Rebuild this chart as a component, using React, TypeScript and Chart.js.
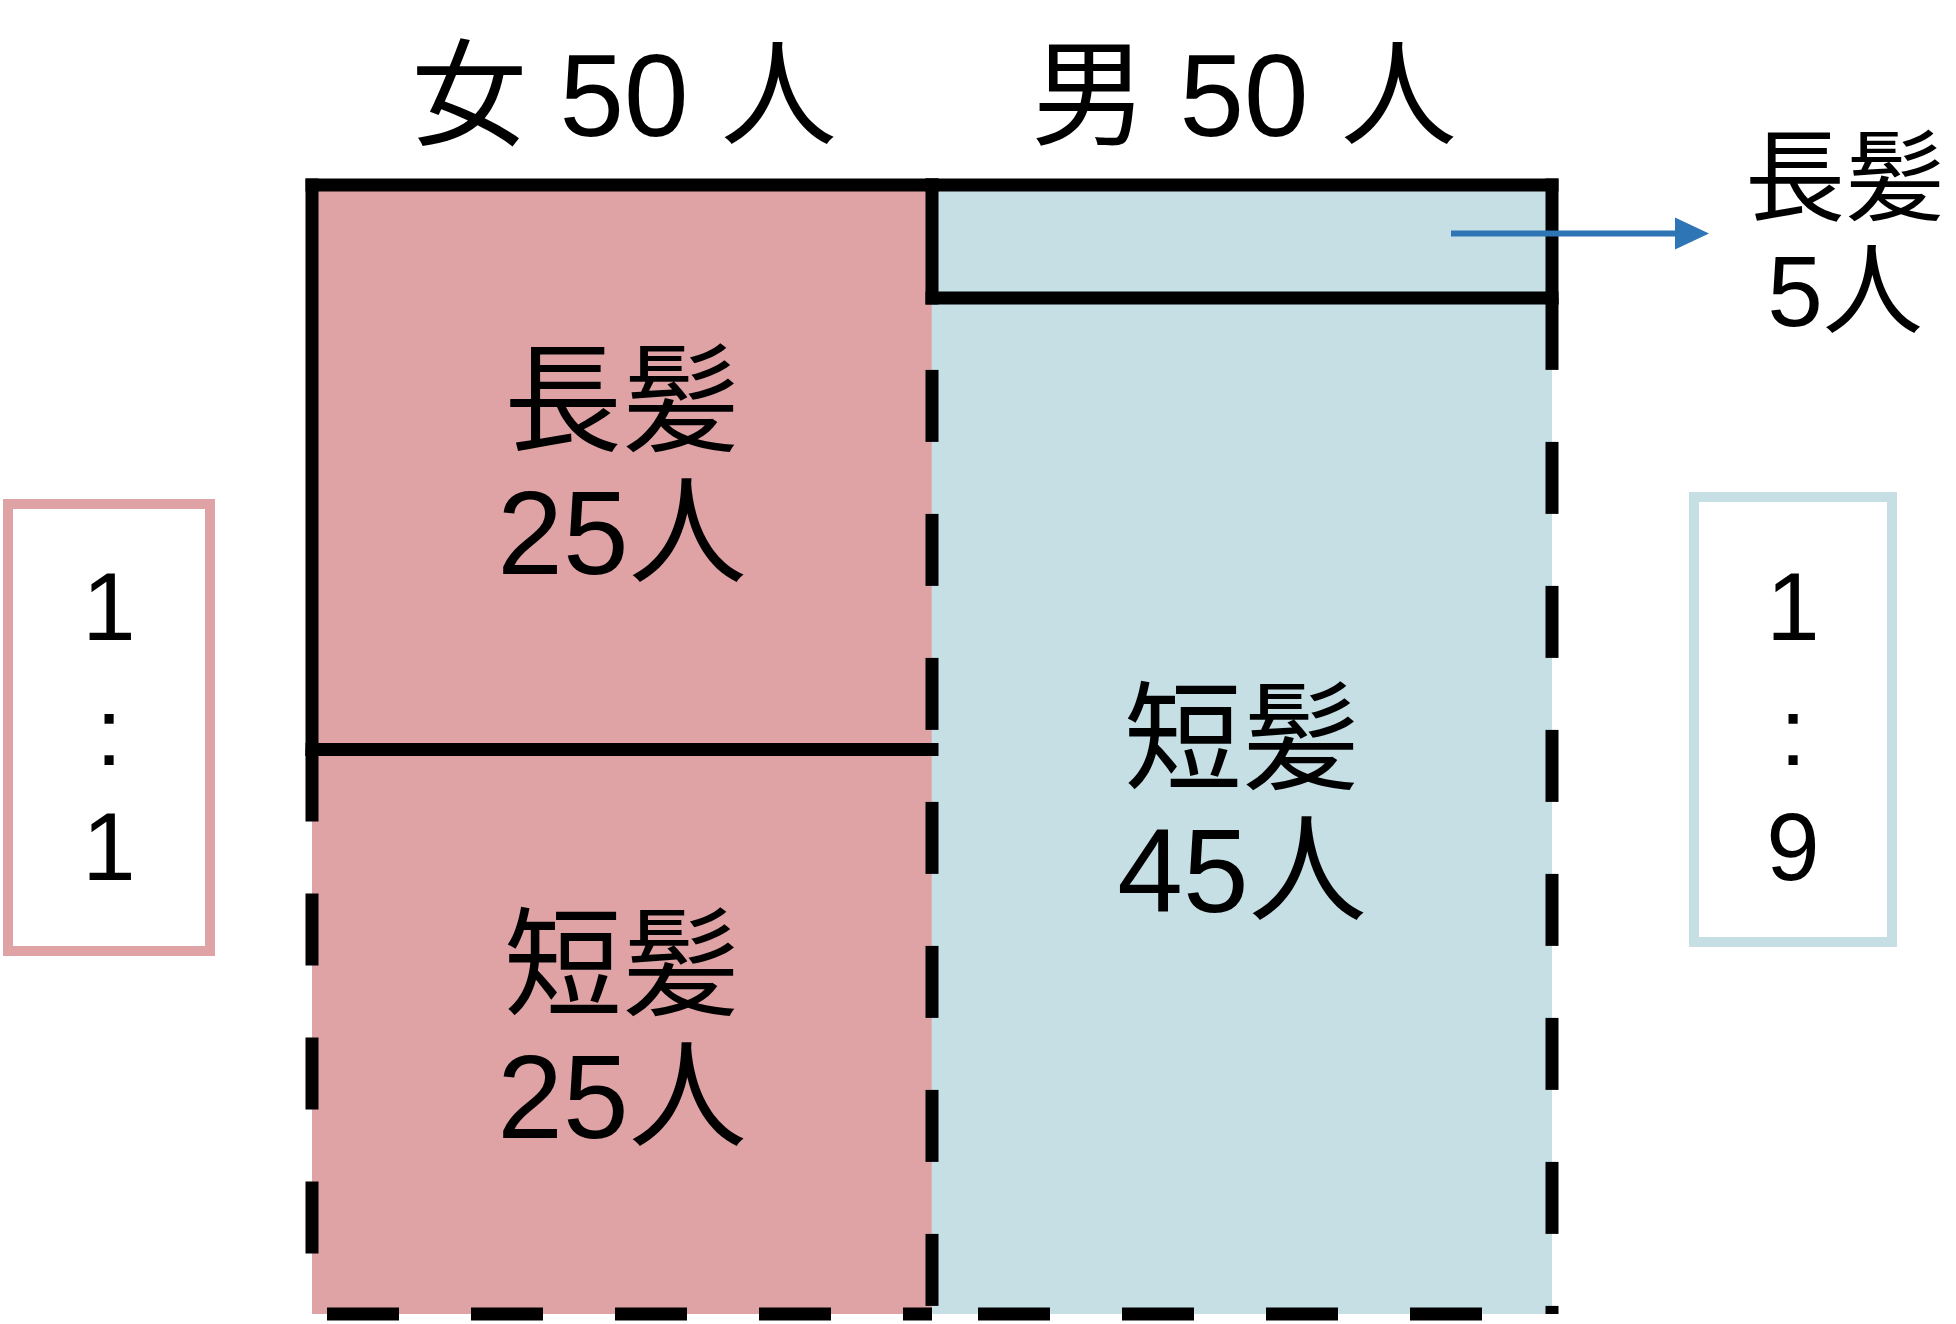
import React, { useEffect, useRef } from 'react';
import { Chart, registerables } from 'chart.js';

Chart.register(...registerables);

// ---- data ----
const genders = ['女', '男'];
const hairTypes = ['短髪', '長髪'];
const shortHair = [25, 45];
const longHair = [25, 5];
const personUnit = '人';

// ---- styles ----
const PINK = '#dfa3a5';
const BLUE = '#c5dfe5';
const ARROW = '#2e75b6';
const FONT = '"Liberation Sans", "Noto Sans CJK JP", sans-serif';
const LINE_W = 13;
const DASH = [72, 72];

function gcd(a: number, b: number): number {
  return b === 0 ? a : gcd(b, a % b);
}

type Side = 'top' | 'left' | 'right' | 'bottom';
// border sides per dataset (0 short, 1 long) and per category, with dash offsets
const sidesConfig: Record<number, { sides: Side[]; solid: boolean; offsets?: Partial<Record<Side, number>> }[]> = {
  0: [
    { sides: ['left', 'bottom'], solid: false, offsets: { bottom: 129 } },
    { sides: ['left', 'right', 'bottom'], solid: false, offsets: { left: 72, bottom: 98 } },
  ],
  1: [
    { sides: ['top', 'left', 'bottom'], solid: true },
    { sides: ['top', 'left', 'right', 'bottom'], solid: true },
  ],
};

const drawPlugin = {
  id: 'mosaicDecor',
  afterDatasetsDraw(chart: any) {
    const ctx: CanvasRenderingContext2D = chart.ctx;
    const rects: any[][] = [[], []];
    [0, 1].forEach((di) => {
      const meta = chart.getDatasetMeta(di);
      meta.data.forEach((el: any, i: number) => {
        const p = el.getProps(['x', 'y', 'base', 'width'], true);
        rects[di][i] = {
          l: p.x - p.width / 2,
          r: p.x + p.width / 2,
          t: Math.min(p.y, p.base),
          b: Math.max(p.y, p.base),
          cx: p.x,
          cy: (p.y + p.base) / 2,
        };
      });
    });

    ctx.save();
    ctx.strokeStyle = '#000';
    ctx.lineWidth = LINE_W;
    // dashed first, then solid
    [0, 1].forEach((di) => {
      rects[di].forEach((rc, i) => {
        const cfg = sidesConfig[di][i];
        cfg.sides.forEach((s) => {
          ctx.beginPath();
          if (cfg.solid) {
            ctx.setLineDash([]);
            ctx.lineCap = 'square';
          } else {
            ctx.setLineDash(DASH);
            ctx.lineDashOffset = (cfg.offsets && cfg.offsets[s]) || 0;
            ctx.lineCap = 'butt';
          }
          if (s === 'top') { ctx.moveTo(rc.l, rc.t); ctx.lineTo(rc.r, rc.t); }
          if (s === 'bottom') { ctx.moveTo(rc.l, rc.b); ctx.lineTo(rc.r, rc.b); }
          if (s === 'left') { ctx.moveTo(rc.l, rc.t); ctx.lineTo(rc.l, rc.b); }
          if (s === 'right') { ctx.moveTo(rc.r, rc.t); ctx.lineTo(rc.r, rc.b); }
          ctx.stroke();
        });
      });
    });
    ctx.setLineDash([]);

    // labels inside bars / callout
    ctx.fillStyle = '#000';
    ctx.textAlign = 'center';
    ctx.textBaseline = 'middle';
    const values = [shortHair, longHair];
    [0, 1].forEach((di) => {
      rects[di].forEach((rc, i) => {
        const v = values[di][i];
        const h = rc.b - rc.t;
        if (h > 250) {
          ctx.font = `118px ${FONT}`;
          ctx.fillText(hairTypes[di], rc.cx, rc.cy - 58);
          ctx.fillText(`${v}${personUnit}`, rc.cx, rc.cy + 74);
        } else {
          // arrow callout
          const ay = rc.cy - 8;
          const x0 = rc.r - 101;
          const tip = rc.r + 157;
          ctx.strokeStyle = ARROW;
          ctx.fillStyle = ARROW;
          ctx.lineWidth = 6;
          ctx.lineCap = 'butt';
          ctx.beginPath();
          ctx.moveTo(x0, ay);
          ctx.lineTo(tip - 30, ay);
          ctx.stroke();
          ctx.beginPath();
          ctx.moveTo(tip, ay);
          ctx.lineTo(tip - 34, ay - 16);
          ctx.lineTo(tip - 34, ay + 16);
          ctx.closePath();
          ctx.fill();
          ctx.fillStyle = '#000';
          ctx.font = `100px ${FONT}`;
          ctx.fillText(hairTypes[di], tip + 136, ay - 48);
          ctx.fillText(`${v}${personUnit}`, tip + 136, ay + 65);
        }
      });
    });

    // titles above
    ctx.font = `116px ${FONT}`;
    rects[0].forEach((rc, i) => {
      const total = shortHair[i] + longHair[i];
      ctx.fillText(`${genders[i]} ${total} ${personUnit}`, rc.cx + 2, 104);
    });

    // ratio boxes
    const boxes = [
      { l: 8, r: 210, t: 504, b: 951, color: PINK },
      { l: 1694, r: 1892, t: 497, b: 942, color: BLUE },
    ];
    boxes.forEach((bx, i) => {
      ctx.strokeStyle = bx.color;
      ctx.lineWidth = 10;
      ctx.lineCap = 'butt';
      ctx.strokeRect(bx.l, bx.t, bx.r - bx.l, bx.b - bx.t);
      const g = gcd(longHair[i], shortHair[i]);
      const parts = [String(longHair[i] / g), ':', String(shortHair[i] / g)];
      const cx = (bx.l + bx.r) / 2;
      ctx.fillStyle = '#000';
      ctx.font = `96px ${FONT}`;
      ctx.fillText(parts[0], cx, 614);
      ctx.fillText(parts[1], cx, 739);
      ctx.fillText(parts[2], cx, 854);
    });
    ctx.restore();
  },
};

export default function App() {
  const ref = useRef<HTMLCanvasElement | null>(null);
  useEffect(() => {
    if (!ref.current) return;
    const chart = new Chart(ref.current, {
      type: 'bar',
      data: {
        labels: genders,
        datasets: [
          {
            label: hairTypes[0],
            data: shortHair,
            backgroundColor: [PINK, BLUE],
            borderWidth: 0,
            barPercentage: 1,
            categoryPercentage: 1,
          },
          {
            label: hairTypes[1],
            data: longHair,
            backgroundColor: [PINK, BLUE],
            borderWidth: 0,
            barPercentage: 1,
            categoryPercentage: 1,
          },
        ],
      },
      options: {
        responsive: false,
        animation: false,
        layout: { padding: { left: 312, right: 404, top: 185, bottom: 10 } },
        plugins: { legend: { display: false }, tooltip: { enabled: false } },
        scales: {
          x: { stacked: true, display: false },
          y: { stacked: true, display: false, min: 0, max: 50 },
        },
      },
      plugins: [drawPlugin],
    });
    return () => chart.destroy();
  }, []);
  return (
    <div style={{ position: 'absolute', left: 0, top: 0, width: 1956, height: 1324, background: '#fff' }}>
      <canvas ref={ref} width={1956} height={1324} style={{ width: 1956, height: 1324, display: 'block' }} />
    </div>
  );
}
